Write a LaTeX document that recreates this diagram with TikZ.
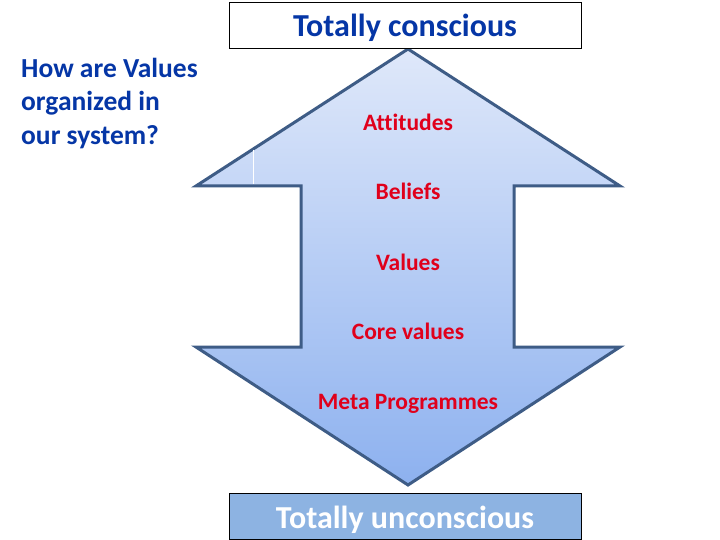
\documentclass[tikz,border=0pt]{standalone}
\usepackage{fontspec}
\setmainfont{Carlito}[Ligatures={NoCommon}]
\definecolor{titleblue}{HTML}{0536A6}
\definecolor{labelred}{HTML}{E0001B}
\definecolor{arrowedge}{HTML}{3E5C86}
\definecolor{arrowtop}{HTML}{DFE8FA}
\definecolor{arrowbot}{HTML}{8DB1EF}
\definecolor{boxfill}{HTML}{8DB3E2}
\tikzset{
  titlebox/.style={draw=black, line width=1pt, minimum width=352pt, minimum height=46pt, inner sep=0pt},
  titletext/.style={font=\bfseries\fontsize{32}{38}\selectfont, anchor=base},
  lvl/.style={font=\bfseries\fontsize{23.5}{28}\selectfont, text=labelred, anchor=base},
  question/.style={font=\bfseries\fontsize{27.5}{34}\selectfont, text=titleblue, anchor=base west, inner sep=0pt}
}
\begin{document}
\begin{tikzpicture}[x=1pt,y=-1pt]
\useasboundingbox (0,0) rectangle (720,540);
\fill[white] (0,0) rectangle (720,540);
% arrow outline points
\coordinate (tip) at (408,49);
\coordinate (lw) at (196,186);
\coordinate (ls) at (301,186);
\coordinate (lsb) at (301,347);
\coordinate (lwb) at (196,347);
\coordinate (btip) at (408,485);
\coordinate (rwb) at (620,347);
\coordinate (rsb) at (514,347);
\coordinate (rs) at (514,186);
\coordinate (rw) at (620,186);
\path[draw=arrowedge, line width=3pt, line join=miter, top color=arrowtop, bottom color=arrowbot]
  (tip) -- (rw) -- (rs) -- (rsb) -- (rwb) -- (btip) -- (lwb) -- (lsb) -- (ls) -- (lw) -- cycle;
\draw[white, line width=0.8pt] (253,150) -- (253,184);
% boxes
\node[titlebox, fill=white] (top) at (405,26) {};
\node[titletext, text=titleblue] (toptext) at (405,37) {Totally conscious};
\node[titlebox, fill=boxfill] (bot) at (405,516.5) {};
\node[titletext, text=white] (bottext) at (405,528) {Totally unconscious};
% levels
\node[lvl] (att) at (408,131) {Attitudes};
\node[lvl] (bel) at (408,200) {Beliefs};
\node[lvl] (val) at (408,270) {Values};
\node[lvl] (core) at (408,339) {Core values};
\node[lvl] (meta) at (408,409) {Meta Programmes};
% question
\node[question] (q1) at (21,78) {How are Values};
\node[question] (q2) at (21,111) {organized in};
\node[question] (q3) at (21,145) {our system?};
\end{tikzpicture}
\end{document}
